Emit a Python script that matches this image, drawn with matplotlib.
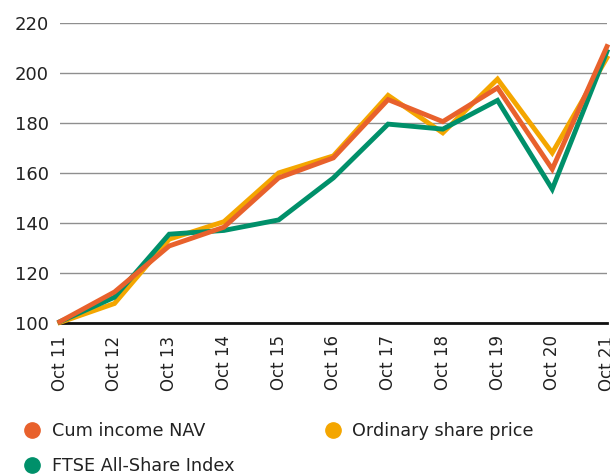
import matplotlib.pyplot as plt
from matplotlib.lines import Line2D

plt.rcParams['font.family'] = ['DejaVu Sans']

years = ['Oct 11', 'Oct 12', 'Oct 13', 'Oct 14', 'Oct 15', 'Oct 16',
         'Oct 17', 'Oct 18', 'Oct 19', 'Oct 20', 'Oct 21']
nav = [100.5, 112.4, 130.8, 138.3, 158.0, 166.0, 189.3, 180.5, 194.0, 161.5, 210.5]
share_price = [100.2, 107.8, 133.5, 140.5, 160.0, 166.8, 191.0, 176.0, 197.5, 168.0, 206.0]
ftse = [100.5, 110.3, 135.5, 137.0, 141.2, 158.0, 179.5, 177.5, 189.0, 153.5, 208.5]

c_nav = '#e8612c'
c_share = '#f4a600'
c_ftse = '#00906a'
txt = '#222222'

fig = plt.figure(figsize=(6.1, 4.75), dpi=100)
ax = fig.add_axes([0.098, 0.32, 0.897, 0.632])

x = range(len(years))
ax.plot(x, share_price, color=c_share, lw=3.5, zorder=3, solid_joinstyle='miter')
ax.plot(x, ftse, color=c_ftse, lw=3.5, zorder=4, solid_joinstyle='miter')
ax.plot(x, nav, color=c_nav, lw=3.5, zorder=5, solid_joinstyle='miter')

ax.set_xlim(0, len(years) - 1)
ax.set_ylim(100, 220)
ax.set_yticks(range(100, 221, 20))
ax.set_xticks(list(x))
ax.set_xticklabels(years, rotation=90, fontsize=12, color=txt)
ax.tick_params(axis='y', labelsize=13, labelcolor=txt, length=0, pad=8)
ax.tick_params(axis='x', length=0, pad=9)

for sp in ['left', 'right', 'top']:
    ax.spines[sp].set_visible(False)
ax.spines['bottom'].set_color('#111111')
ax.spines['bottom'].set_linewidth(2)
ax.spines['bottom'].set_zorder(2)
ax.yaxis.grid(True, color='#8f8f8f', lw=1.0)
ax.set_axisbelow(True)
for ln in ax.lines:
    ln.set_clip_on(False)

handles = [
    Line2D([], [], ls='none', marker='o', ms=11, color=c_nav, label='Cum income NAV'),
    Line2D([], [], ls='none', marker='o', ms=11, color=c_ftse, label='FTSE All-Share Index'),
    Line2D([], [], ls='none', marker='o', ms=11, color=c_share, label='Ordinary share price'),
]
fig.legend(handles=handles, ncol=2, loc='upper left', bbox_to_anchor=(0.027, 0.127),
           frameon=False, fontsize=12.7, handlelength=1.0, handletextpad=0.6,
           columnspacing=5.1, labelspacing=1.0, labelcolor=txt,
           borderaxespad=0)

fig.savefig('out.png', dpi=100)
